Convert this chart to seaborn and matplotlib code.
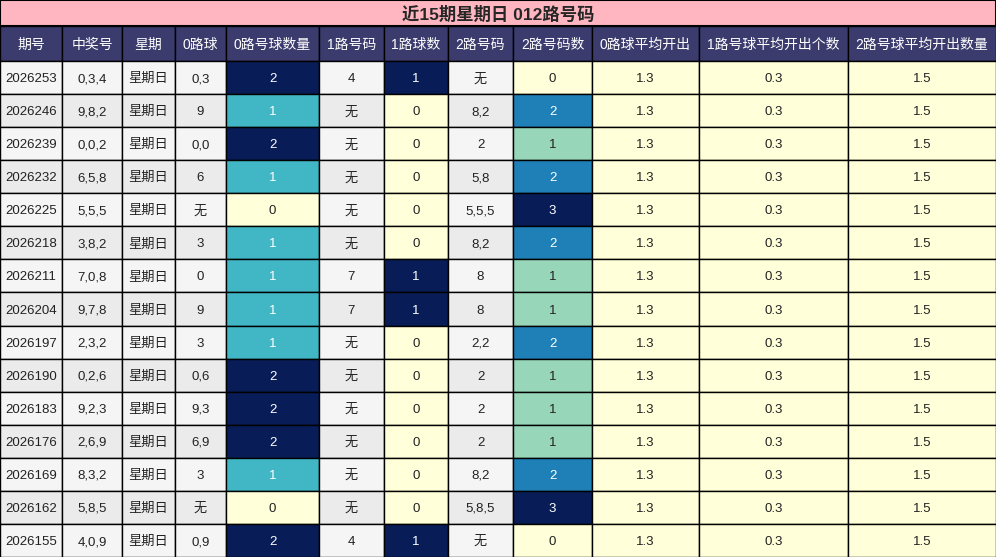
import matplotlib
matplotlib.use("Agg")
import matplotlib.pyplot as plt
import seaborn as sns
from matplotlib.patches import Rectangle

sns.set_theme(style="white")
plt.rcParams['font.family'] = ['Liberation Sans', 'Noto Sans CJK SC', 'DejaVu Sans']

title = "近15期星期日 012路号码"
headers = ["期号", "中奖号", "星期", "0路球", "0路号球数量", "1路号码", "1路球数",
           "2路号码", "2路号码数", "0路球平均开出", "1路号球平均开出个数", "2路号球平均开出数量"]
issues = ["2026253", "2026246", "2026239", "2026232", "2026225", "2026218", "2026211", "2026204",
          "2026197", "2026190", "2026183", "2026176", "2026169", "2026162", "2026155"]
draws = ["0,3,4", "9,8,2", "0,0,2", "6,5,8", "5,5,5", "3,8,2", "7,0,8", "9,7,8",
         "2,3,2", "0,2,6", "9,2,3", "2,6,9", "8,3,2", "5,8,5", "4,0,9"]
zero_nums = ["0,3", "9", "0,0", "6", "无", "3", "0", "9", "3", "0,6", "9,3", "6,9", "3", "无", "0,9"]
zero_cnt = [2, 1, 2, 1, 0, 1, 1, 1, 1, 2, 2, 2, 1, 0, 2]
one_nums = ["4", "无", "无", "无", "无", "无", "7", "7", "无", "无", "无", "无", "无", "无", "4"]
one_cnt = [1, 0, 0, 0, 0, 0, 1, 1, 0, 0, 0, 0, 0, 0, 1]
two_nums = ["无", "8,2", "2", "5,8", "5,5,5", "8,2", "8", "8", "2,2", "2", "2", "2", "8,2", "5,8,5", "无"]
two_cnt = [0, 2, 1, 2, 3, 2, 1, 1, 2, 1, 1, 1, 2, 3, 0]
avg0, avg1, avg2 = "1.3", "0.3", "1.5"

col_x = [0, 62, 122, 175, 226, 319, 384, 448, 513, 592, 699, 848, 996]
title_h, head_y, row_h = 26, 61, 33.07

cmap = {0: "#ffffd9", 1: "#97d6b9", 2: "#1f80b8", 3: "#081d58"}
cmap0 = {0: "#ffffd9", 1: "#41b6c4", 2: "#081d58"}
cmap1 = {0: "#ffffd9", 1: "#081d58"}

fig = plt.figure(figsize=(9.96, 5.57), dpi=100)
ax = fig.add_axes([0, 0, 1, 1])
ax.set_xlim(0, 996)
ax.set_ylim(557, 0)
ax.axis("off")

ax.add_patch(Rectangle((0, 0), 996, title_h, facecolor="#ffb6c1", edgecolor="black", lw=1.5))
ax.text(498, title_h / 2 + 1, title, ha="center", va="center", fontsize=12.5, fontweight="bold")

for j, h in enumerate(headers):
    x0, x1 = col_x[j], col_x[j + 1]
    ax.add_patch(Rectangle((x0, title_h), x1 - x0, head_y - title_h, facecolor="#3b3b6d",
                           edgecolor="black", lw=1))
    ax.text((x0 + x1) / 2, (title_h + head_y) / 2 + 1, h, ha="center", va="center",
            fontsize=10, color="white")

for i in range(len(issues)):
    base = "#f5f5f5" if i % 2 == 0 else "#ebebeb"
    cells = [
        (issues[i], base), (draws[i], base), ("星期日", base), (zero_nums[i], base),
        (str(zero_cnt[i]), cmap0[zero_cnt[i]]), (one_nums[i], base),
        (str(one_cnt[i]), cmap1[one_cnt[i]]), (two_nums[i], base),
        (str(two_cnt[i]), cmap[two_cnt[i]]),
        (avg0, "#ffffd9"), (avg1, "#ffffd9"), (avg2, "#ffffd9"),
    ]
    y0 = head_y + i * row_h
    for j, (txt, fc) in enumerate(cells):
        x0, x1 = col_x[j], col_x[j + 1]
        ax.add_patch(Rectangle((x0, y0), x1 - x0, row_h, facecolor=fc, edgecolor="black", lw=1))
        dark = fc in ("#081d58", "#1f80b8", "#41b6c4")
        ax.text((x0 + x1) / 2, y0 + row_h / 2 + 1.5, txt, ha="center", va="center",
                fontsize=9.5, color="white" if dark else "#222222")

fig.savefig("out.png", dpi=100)
